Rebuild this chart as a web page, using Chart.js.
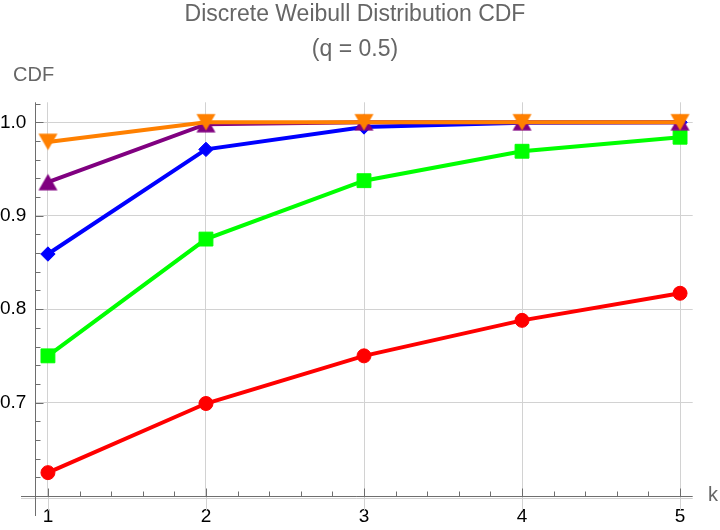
<!DOCTYPE html>
<html><head><meta charset="utf-8">
<script src="https://cdn.jsdelivr.net/npm/chart.js@4.4.1/dist/chart.umd.min.js"></script>
<style>html,body{margin:0;padding:0;background:#fff}#wrap{width:720px;height:530px}</style>
</head><body><div id="wrap"><canvas id="c" width="720" height="530"></canvas></div>
<script>
const kValues = [1, 2, 3, 4, 5];
const cdfBeta05 = [0.625, 0.699, 0.750, 0.788, 0.817];
const cdfBeta10 = [0.750, 0.875, 0.9375, 0.969, 0.984];
const cdfBeta15 = [0.859, 0.971, 0.995, 0.9995, 1.0];
const cdfBeta20 = [0.936, 0.998, 1.0, 1.0, 1.0];
const cdfBeta25 = [0.979, 1.0, 1.0, 1.0, 1.0];
const xTickLabels = ['1', '2', '3', '4', '5'];
const yTickLabels = ['0.7', '0.8', '0.9', '1.0'];
const titleLines = ['Discrete Weibull Distribution CDF', '(q = 0.5)'];
const yAxisLabel = 'CDF';
const xAxisLabel = 'k';

const FONT = "'Liberation Sans', Arial, Helvetica, sans-serif";
const xMajor = xTickLabels.map(Number);
const yMajor = yTickLabels.map(Number);
const near = (a, b) => Math.abs(a - b) < 1e-6;
const isXMajor = v => xMajor.some(m => near(m, v));
const isYMajor = v => yMajor.some(m => near(m, v));

const xTickVals = [];
for (let i = 0; i <= 20; i++) xTickVals.push(+(1 + i * 0.2).toFixed(4));
const yTickVals = [];
for (let i = 0; i <= 21; i++) yTickVals.push(+(0.6 + i * 0.02).toFixed(4));

// triangle marker sprites centred on their bounding box
function triSprite(color, down) {
  const w = 19, h = 16.5;
  const c = document.createElement('canvas');
  c.width = 21; c.height = 19;
  const g = c.getContext('2d');
  const ox = (c.width - w) / 2, oy = (c.height - h) / 2;
  g.fillStyle = color;
  g.beginPath();
  if (down) { g.moveTo(ox, oy); g.lineTo(ox + w, oy); g.lineTo(ox + w / 2, oy + h); }
  else { g.moveTo(ox + w / 2, oy); g.lineTo(ox + w, oy + h); g.lineTo(ox, oy + h); }
  g.closePath();
  g.fill();
  return c;
}

function pts(arr) { return kValues.map((k, i) => ({ x: k, y: arr[i] })); }
function ds(label, arr, color, style, radius, order) {
  return {
    label, data: pts(arr), borderColor: color, backgroundColor: color,
    borderWidth: 4, pointStyle: style, pointRadius: radius, pointHoverRadius: radius,
    pointBackgroundColor: color, pointBorderColor: color, pointBorderWidth: 1,
    order, clip: false, tension: 0
  };
}

const mmaPlugin = {
  id: 'mmaAxes',
  beforeDatasetsDraw(chart) {
    const { ctx, chartArea: a, scales: { x, y } } = chart;
    ctx.save();
    const y0 = Math.round(a.bottom) + 0.5;
    const x0 = Math.round(a.left) + 0.5;
    ctx.strokeStyle = '#d2d2d2';
    ctx.lineWidth = 1;
    ctx.beginPath();
    ctx.moveTo(21, y0 + 2); ctx.lineTo(a.right, y0 + 2);
    x.ticks.forEach(t => {
      if (!isXMajor(t.value)) return;
      const px = Math.round(x.getPixelForValue(t.value)) + 0.5;
      ctx.moveTo(px, y0); ctx.lineTo(px, y0 + 14);
    });
    ctx.stroke();
    ctx.strokeStyle = '#6e6e6e';
    ctx.beginPath();
    ctx.moveTo(21, y0); ctx.lineTo(a.right, y0);
    ctx.moveTo(x0, a.top); ctx.lineTo(x0, a.bottom + 20);
    x.ticks.forEach(t => {
      const px = Math.round(x.getPixelForValue(t.value)) + 0.5;
      const len = isXMajor(t.value) ? 8 : 5;
      ctx.moveTo(px, y0); ctx.lineTo(px, y0 - len);
    });
    y.ticks.forEach(t => {
      if (near(t.value, 0.6)) return;
      const py = Math.round(y.getPixelForValue(t.value)) + 0.5;
      const len = isYMajor(t.value) ? 8 : 5;
      ctx.moveTo(x0, py); ctx.lineTo(x0 + len, py);
    });
    ctx.stroke();
    ctx.restore();
  },
  afterDraw(chart) {
    const { ctx } = chart;
    ctx.save();
    ctx.fillStyle = '#666';
    ctx.textBaseline = 'middle';
    ctx.textAlign = 'center';
    ctx.font = '23px ' + FONT;
    ctx.fillText(titleLines[0], 355, 15);
    ctx.fillText(titleLines[1], 355, 50);
    ctx.textAlign = 'left';
    ctx.font = '20px ' + FONT;
    ctx.fillText(yAxisLabel, 13, 75);
    ctx.fillText(xAxisLabel, 708, 495);
    ctx.restore();
  }
};

new Chart(document.getElementById('c'), {
  type: 'line',
  data: {
    datasets: [
      ds('β = 0.5', cdfBeta05, 'rgb(255,0,0)', 'circle', 7, 5),
      ds('β = 1', cdfBeta10, 'rgb(0,255,0)', 'rect', 9.8, 4),
      ds('β = 1.5', cdfBeta15, 'rgb(0,0,255)', 'rectRot', 7.2, 3),
      ds('β = 2', cdfBeta20, 'rgb(128,0,128)', triSprite('rgb(128,0,128)', false), 9.5, 2),
      ds('β = 2.5', cdfBeta25, 'rgb(255,128,0)', triSprite('rgb(255,128,0)', true), 9.5, 1)
    ]
  },
  options: {
    responsive: false,
    animation: false,
    devicePixelRatio: 1,
    layout: { padding: { left: 0, right: 27.3, top: 102.3, bottom: 0 } },
    plugins: { legend: { display: false }, title: { display: false }, tooltip: { enabled: false } },
    events: [],
    scales: {
      x: {
        type: 'linear', min: 0.92, max: 5.08,
        afterBuildTicks: s => { s.ticks = xTickVals.map(v => ({ value: v })); },
        afterFit: s => { s.height = 34; },
        border: { display: false },
        grid: {
          drawTicks: false,
          color: c => (c.tick && isXMajor(c.tick.value)) ? '#d2d2d2' : 'rgba(0,0,0,0)',
          lineWidth: 1
        },
        ticks: {
          autoSkip: false, maxRotation: 0, minRotation: 0, padding: 9,
          color: '#000', font: { family: FONT, size: 19 },
          callback: v => { const i = xMajor.findIndex(m => near(m, v)); return i >= 0 ? xTickLabels[i] : ''; }
        }
      },
      y: {
        type: 'linear', min: 0.6, max: 1.0214,
        afterBuildTicks: s => { s.ticks = yTickVals.map(v => ({ value: v })); },
        afterFit: s => { s.width = 35.3; },
        border: { display: false },
        grid: {
          drawTicks: false,
          color: c => (c.tick && isYMajor(c.tick.value)) ? '#d2d2d2' : 'rgba(0,0,0,0)',
          lineWidth: 1
        },
        ticks: {
          autoSkip: false, padding: 9,
          color: '#000', font: { family: FONT, size: 19 },
          callback: v => { const i = yMajor.findIndex(m => near(m, v)); return i >= 0 ? yTickLabels[i] : ''; }
        }
      }
    }
  },
  plugins: [mmaPlugin]
});
</script>
</body></html>
